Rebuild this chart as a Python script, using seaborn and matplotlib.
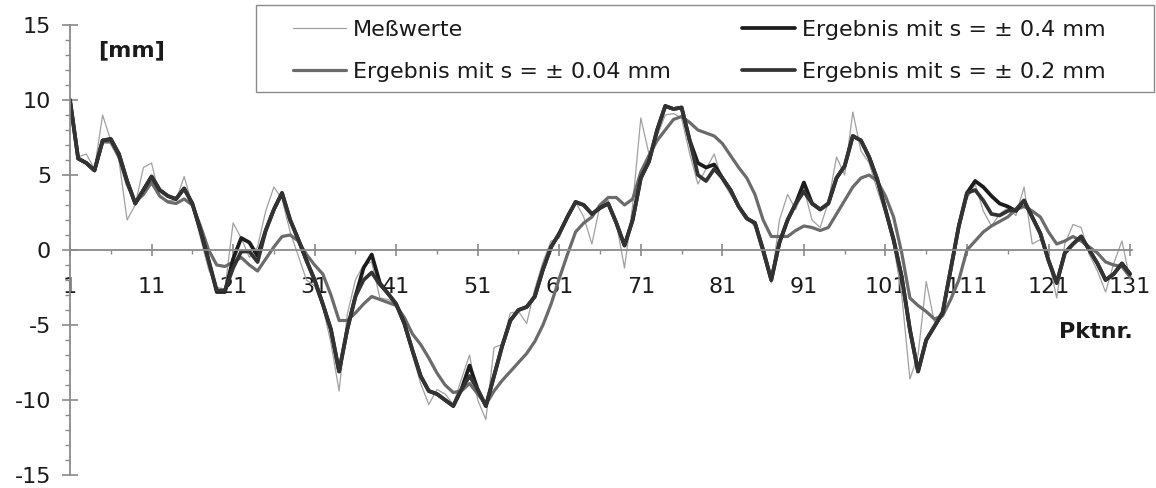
import matplotlib
matplotlib.use("Agg")
import matplotlib.pyplot as plt
import seaborn as sns
from matplotlib.ticker import FixedLocator, MultipleLocator
from matplotlib.patches import Rectangle

# Point numbers along the profile
pktnr = list(range(1, 132))

# Measured deviations [mm]
messwerte = [
    10.0, 6.2, 6.4, 5.4, 9.0, 7.3, 6.0, 2.0, 3.0, 5.5,
    5.8, 3.5, 3.3, 3.3, 4.9, 3.0, 0.8, -1.3, -2.5, -2.6,
    1.8, 0.8, -0.5, 0.2, 2.6, 4.2, 3.4, 1.2, -0.4, -2.0,
    -2.4, -3.8, -6.2, -9.4, -4.3, -2.0, -1.0, -0.8, -3.2, -3.3,
    -3.6, -5.0, -7.0, -8.9, -10.3, -9.3, -9.6, -10.3, -8.6, -7.0,
    -10.0, -11.3, -6.5, -6.3, -4.2, -4.1, -4.9, -2.6, -0.8, 0.6,
    0.8, 2.4, 3.2, 2.2, 0.4, 3.0, 3.3, 1.8, -1.2, 3.0,
    8.8, 6.4, 7.6, 9.0, 9.1, 8.8, 6.4, 4.4, 5.4, 6.4,
    4.6, 3.7, 2.9, 2.3, 1.5, -0.4, -2.2, 2.0, 3.7, 2.7,
    4.1, 2.0, 1.5, 3.2, 6.2, 5.0, 9.2, 6.6, 5.8, 4.0,
    2.4, 0.3, -3.0, -8.6, -7.0, -2.1, -4.8, -4.0, -1.6, 1.5,
    3.4, 4.4, 2.6, 1.6, 2.4, 2.8, 2.3, 4.2, 0.4, 0.7,
    -0.6, -3.2, 0.4, 1.7, 1.5, -0.3, -1.4, -2.8, -0.9, 0.6, -2.0,
]

# Adjusted result, s = +/- 0.04 mm
erg_s004 = [
    10.0, 6.1, 5.8, 5.3, 7.2, 7.2, 6.2, 4.4, 3.2, 3.7,
    4.5, 3.6, 3.2, 3.1, 3.4, 3.0, 1.6, 0.0, -1.0, -1.1,
    -0.8, -0.5, -1.0, -1.4, -0.6, 0.2, 0.9, 1.0, 0.6, -0.3,
    -1.0, -1.6, -3.0, -4.7, -4.7, -4.2, -3.6, -3.1, -3.3, -3.5,
    -3.7, -4.5, -5.6, -6.3, -7.2, -8.2, -9.0, -9.5, -9.4, -8.9,
    -9.6, -10.3, -9.4, -8.7, -8.1, -7.5, -6.9, -6.1, -5.0, -3.6,
    -1.9, -0.3, 1.2, 1.8, 2.2, 3.0, 3.5, 3.5, 3.0, 3.4,
    5.2, 6.3, 7.3, 8.0, 8.7, 8.9, 8.5, 8.0, 7.8, 7.6,
    7.1, 6.3, 5.5, 4.8, 3.7, 2.0, 0.9, 0.9, 0.9, 1.3,
    1.6, 1.5, 1.3, 1.5, 2.4, 3.3, 4.2, 4.8, 5.0, 4.6,
    3.6, 2.2, -0.2, -3.2, -3.7, -4.1, -4.6, -4.4, -3.3, -2.0,
    0.0, 0.6, 1.2, 1.6, 1.9, 2.2, 2.7, 2.9, 2.6, 2.2,
    1.2, 0.4, 0.6, 0.9, 0.6, 0.2, -0.2, -0.8, -1.0, -1.1, -1.8,
]

# Adjusted result, s = +/- 0.4 mm
erg_s04 = [
    10.0, 6.1, 5.8, 5.3, 7.3, 7.4, 6.4, 4.6, 3.1, 4.0,
    4.9, 4.0, 3.6, 3.4, 4.1, 3.1, 1.3, -0.7, -2.8, -2.8,
    -0.6, 0.8, 0.5, -0.4, 1.3, 2.7, 3.8, 2.0, 0.7, -0.7,
    -2.0, -3.6, -5.3, -8.1, -5.3, -3.1, -1.2, -0.3, -2.2, -2.9,
    -3.6, -4.9, -6.7, -8.4, -9.4, -9.6, -10.0, -10.4, -9.3, -7.7,
    -9.3, -10.4, -8.4, -6.4, -4.7, -4.0, -3.8, -3.1, -1.3, 0.2,
    1.1, 2.2, 3.2, 3.0, 2.4, 2.8, 3.1, 1.8, 0.3, 2.0,
    4.8, 5.9, 8.0, 9.6, 9.4, 9.5, 7.3, 5.8, 5.5, 5.7,
    4.8, 4.0, 2.9, 2.1, 1.8, 0.0, -2.0, 0.5, 2.0, 3.1,
    4.5, 3.1, 2.7, 3.1, 4.8, 5.6, 7.6, 7.3, 6.2, 4.7,
    2.7, 0.7, -1.8, -5.3, -8.1, -6.0, -5.1, -4.2, -1.3, 1.6,
    3.8, 4.6, 4.2, 3.6, 3.1, 2.9, 2.6, 3.3, 2.2, 1.1,
    -0.7, -2.2, -0.2, 0.4, 0.9, 0.0, -0.9, -2.0, -1.6, -0.9, -1.6,
]

# Adjusted result, s = +/- 0.2 mm
erg_s02 = [
    10.0, 6.1, 5.8, 5.3, 7.3, 7.4, 6.4, 4.6, 3.1, 4.0,
    4.9, 4.0, 3.6, 3.4, 4.1, 3.1, 1.3, -0.7, -2.7, -2.7,
    -1.2, -0.1, -0.1, -0.8, 1.3, 2.7, 3.8, 2.0, 0.7, -0.7,
    -2.0, -3.6, -5.3, -8.1, -5.3, -3.1, -2.0, -1.5, -2.3, -2.9,
    -3.6, -4.9, -6.7, -8.4, -9.4, -9.6, -10.0, -10.4, -9.3, -8.4,
    -9.3, -10.4, -8.4, -6.4, -4.7, -4.0, -3.8, -3.1, -1.3, 0.2,
    1.1, 2.2, 3.2, 3.0, 2.4, 2.8, 3.1, 1.8, 0.3, 2.0,
    4.8, 5.9, 8.0, 9.6, 9.4, 9.5, 7.3, 5.0, 4.6, 5.4,
    4.8, 4.0, 2.9, 2.1, 1.8, 0.0, -2.0, 0.5, 2.0, 3.1,
    3.9, 3.1, 2.7, 3.1, 4.8, 5.6, 7.6, 7.3, 6.2, 4.7,
    2.7, 0.7, -1.8, -5.3, -8.1, -6.0, -5.1, -4.2, -1.3, 1.6,
    3.8, 4.0, 3.3, 2.4, 2.3, 2.6, 2.7, 3.3, 2.2, 1.1,
    -0.7, -2.2, -0.2, 0.4, 0.9, 0.0, -0.9, -2.0, -1.6, -0.9, -1.6,
]

series_labels = [
    "Meßwerte",
    "Ergebnis mit s = ± 0.04 mm",
    "Ergebnis mit s = ± 0.4 mm",
    "Ergebnis mit s = ± 0.2 mm",
]
x_ticks = [1, 11, 21, 31, 41, 51, 61, 71, 81, 91, 101, 111, 121, 131]
y_ticks = [-15, -10, -5, 0, 5, 10, 15]

sns.set_theme(style="white")
plt.rcParams["font.family"] = ["DejaVu Sans"]

FS = 16
W, H = 1156, 488
fig = plt.figure(figsize=(W / 100, H / 100), dpi=100)
fig.patch.set_facecolor("white")
ax = fig.add_axes([70 / W, 13 / H, (1131.7 - 70) / W, 450 / H])
ax.set_facecolor("white")

styles = [
    dict(color="#a0a0a0", linewidth=0.9),
    dict(color="#6b6b6b", linewidth=2.3),
    dict(color="#1c1c1c", linewidth=2.7),
    dict(color="#333333", linewidth=2.7),
]
for vals, lab, st in zip([messwerte, erg_s004, erg_s04, erg_s02], series_labels, styles):
    sns.lineplot(x=pktnr, y=vals, ax=ax, label=lab, estimator=None,
                 legend=False, **st)

ax.set_xlim(1, 131.2)
ax.set_ylim(-15, 15)

axis_grey = "#8a8a8a"
for side in ("top", "right"):
    ax.spines[side].set_visible(False)
ax.spines["left"].set_position(("data", 1))
ax.spines["bottom"].set_position(("data", 0))
for side in ("left", "bottom"):
    ax.spines[side].set_color(axis_grey)
    ax.spines[side].set_linewidth(1.3)
ax.set_axisbelow(True)

ax.set_xticks(x_ticks)
ax.set_xticklabels([str(t) for t in x_ticks])
ax.xaxis.set_minor_locator(FixedLocator(list(range(6, 132, 10))))
ax.set_yticks(y_ticks)
ax.set_yticklabels([str(t) for t in y_ticks])
ax.yaxis.set_minor_locator(MultipleLocator(1))

ax.tick_params(which="both", bottom=True, left=True, top=False, right=False)
ax.tick_params(axis="x", which="major", direction="inout", length=8.6, width=1.2,
               color=axis_grey, pad=15, labelsize=FS, labelcolor="#1a1a1a")
ax.tick_params(axis="x", which="minor", direction="out", length=3, width=1.0,
               color=axis_grey)
ax.tick_params(axis="y", which="major", direction="inout", length=12, width=1.2,
               color=axis_grey, pad=7.5, labelsize=FS, labelcolor="#1a1a1a")
ax.tick_params(axis="y", which="minor", direction="out", length=3.5, width=1.0,
               color=axis_grey)
ax.grid(False)

fig.text(131.5 / W, 1 - 50 / H, "[mm]", ha="center", va="center",
         fontsize=FS, fontweight="bold", color="#1a1a1a")
fig.text(1133 / W, 1 - 332 / H, "Pktnr.", ha="right", va="center",
         fontsize=FS, fontweight="bold", color="#1a1a1a")

# Legend frame and entries
fig.add_artist(Rectangle((256 / W, 1 - 92 / H), (1154 - 256) / W, 87 / H,
                         transform=fig.transFigure, fill=False,
                         edgecolor="#8a8a8a", linewidth=1.0))
handles, labels = ax.get_legend_handles_labels()
fig.legend(handles, labels, loc="upper left",
           bbox_to_anchor=(293 / W, 1 - 20 / H), ncol=2, frameon=False,
           fontsize=FS, handlelength=2.4, handletextpad=0.3,
           columnspacing=3.2, labelspacing=0.97, borderpad=0,
           borderaxespad=0, labelcolor="#1a1a1a")

fig.savefig("out.png", dpi=100, facecolor="white")
